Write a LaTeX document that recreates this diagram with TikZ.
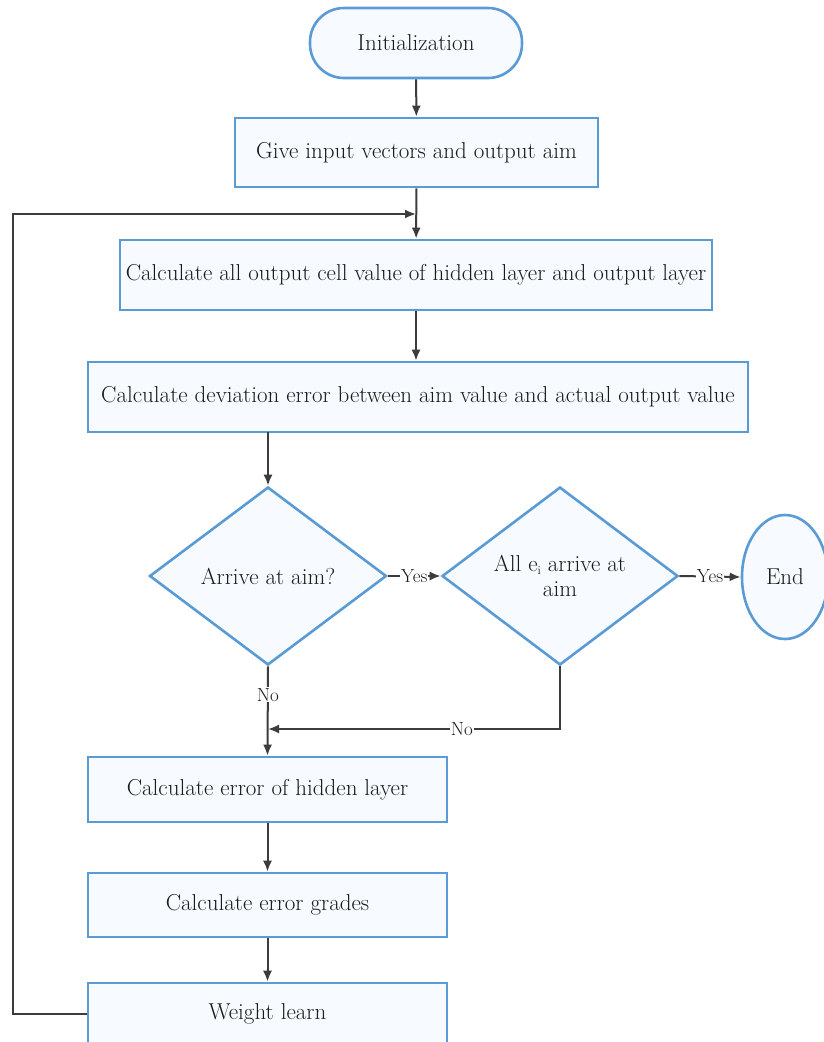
\documentclass[tikz,border=0pt]{standalone}
\usepackage{fontspec}
\setmainfont{Latin Modern Roman}
\usetikzlibrary{shapes.geometric,arrows.meta,positioning}
\definecolor{bord}{HTML}{5B9BD5}
\definecolor{fillc}{HTML}{F7FBFF}
\definecolor{ink}{HTML}{1A1A1A}
\definecolor{wire}{HTML}{3C3C3C}
\begin{document}
\begin{tikzpicture}[x=1pt,y=-1pt,
  every node/.style={font=\fontsize{23}{25}\selectfont, text=ink},
  box/.style={draw=bord, fill=fillc, line width=2.6pt, rectangle, inner sep=0pt, align=center},
  startbox/.style={box, rounded corners=34pt},
  decision/.style={draw=bord, fill=fillc, line width=2.6pt, diamond, inner sep=0pt, align=center},
  endbox/.style={draw=bord, fill=fillc, line width=2.6pt, ellipse, inner sep=0pt},
  conn/.style={draw=wire, line width=2pt, -{Latex[length=11pt,width=9pt]}},
  lbl/.style={fill=white, inner sep=1pt, font=\fontsize{19}{20}\selectfont}
]
\useasboundingbox (0,0) rectangle (824,1042);
\fill[white] (0,0) rectangle (824,1042);

\node[startbox, minimum width=212pt, minimum height=70pt] (init) at (416,43) {Initialization};
\node[box, minimum width=363pt, minimum height=69pt] (give) at (416.5,152.5) {Give input vectors and output aim};
\node[box, minimum width=592pt, minimum height=70pt] (calc) at (416,275) {Calculate all output cell value of hidden layer and output layer};
\node[box, minimum width=660pt, minimum height=70pt] (dev) at (418,397) {Calculate deviation error between aim value and actual output value};
\node[decision, minimum width=237pt, minimum height=178pt] (d1) at (268,576) {Arrive at aim?};
\node[decision, minimum width=236pt, minimum height=178pt] (d2) at (560,576) {All e\raisebox{-0.3ex}{\fontsize{12}{12}\selectfont i} arrive at\\aim};
\node[endbox, minimum width=86pt, minimum height=124pt] (end) at (785,577) {End};
\node[box, minimum width=359pt, minimum height=65pt] (hid) at (267.5,789.5) {Calculate error of hidden layer};
\node[box, minimum width=359pt, minimum height=64pt] (grad) at (267.5,905) {Calculate error grades};
\node[box, minimum width=359pt, minimum height=62pt] (wl) at (267.5,1014) {Weight learn};

\coordinate (loopin) at (416,214);
\coordinate (devout) at (268,432);
\coordinate (merge) at (268,729);

\draw[conn] (init) -- (give);
\draw[conn] (give) -- (calc);
\draw[conn] (calc) -- (dev.north -| calc);
\draw[conn] (devout) -- (d1.north);
\draw[conn] (d1.east) -- node[lbl]{Yes} (d2.west);
\draw[conn] (d2.east) -- node[lbl]{Yes} (end.west);
\draw[conn] (d1.south) -- node[lbl, pos=0.32]{No} (hid.north);
\draw[conn] (d2.south) |- node[lbl, pos=0.668]{No} (merge);
\draw[conn] (hid) -- (grad);
\draw[conn] (grad) -- (wl);
\draw[conn] (wl.west) -- ++(-74,0) |- (loopin);
\end{tikzpicture}
\end{document}
